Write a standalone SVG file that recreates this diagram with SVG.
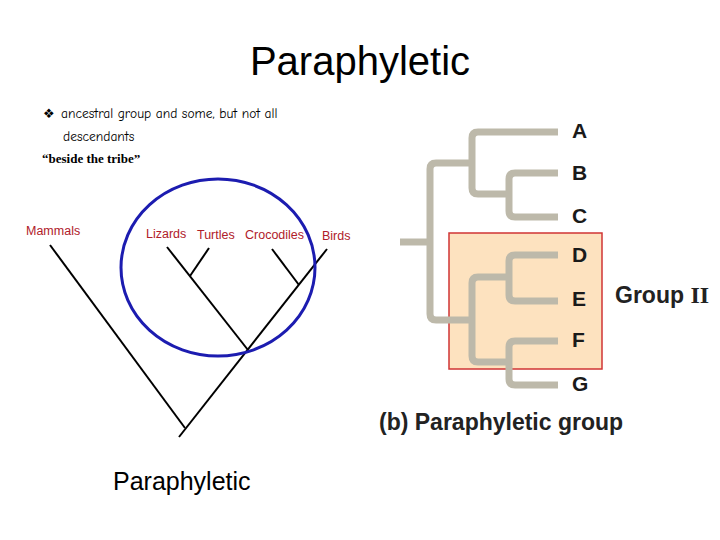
<svg xmlns="http://www.w3.org/2000/svg" width="720" height="540" viewBox="0 0 720 540">
<style>
.title{font-family:"Liberation Sans",sans-serif;font-size:40px;fill:#000}
.body{font-family:"Comic Neue","Liberation Sans",sans-serif;font-size:13.5px;fill:#000}
.quote{font-family:"Liberation Serif",serif;font-size:13px;font-weight:bold;fill:#000}
.tax{font-family:"Liberation Sans",sans-serif;font-size:12.5px;fill:#b0202a}
.blk{stroke:#000;stroke-width:2;fill:none}
.gray{stroke:#bdb9aa;stroke-width:7;fill:none;stroke-linejoin:round;stroke-linecap:butt}
.let{font-family:"Liberation Sans",sans-serif;font-size:21px;font-weight:bold;fill:#1a1a1a}
.cap{font-family:"Liberation Sans",sans-serif;font-size:23px;font-weight:bold;fill:#222}
</style>
<rect width="720" height="540" fill="#fff"/>
<text class="title" x="360" y="75" text-anchor="middle">Paraphyletic</text>
<g id="bullet-text">
<text x="43" y="118" font-family="DejaVu Sans,sans-serif" font-size="13" fill="#000">❖</text>
<text class="body" x="61" y="118">ancestral group and some, but not all</text>
<text class="body" x="63" y="141">descendants</text>
<text class="quote" x="42" y="163">“beside the tribe”</text>
</g>
<g id="left-tree">
<g id="connectors-left">
<line class="blk" x1="50" y1="245" x2="185" y2="428"/>
<line class="blk" x1="327" y1="249" x2="179" y2="437"/>
<line class="blk" x1="167" y1="247" x2="248" y2="350"/>
<line class="blk" x1="209" y1="248" x2="190" y2="276"/>
<line class="blk" x1="272" y1="249" x2="299" y2="285"/>
</g>
<ellipse cx="218" cy="267.5" rx="97" ry="88.5" fill="none" stroke="#1c1cb0" stroke-width="3"/>
<g id="mammals"><text class="tax" x="26" y="235">Mammals</text></g>
<g id="lizards"><text class="tax" x="146" y="238">Lizards</text></g>
<g id="turtles"><text class="tax" x="197" y="239">Turtles</text></g>
<g id="crocodiles"><text class="tax" x="245" y="239">Crocodiles</text></g>
<g id="birds"><text class="tax" x="322" y="240">Birds</text></g>
<text x="113" y="490" font-family="Liberation Sans,sans-serif" font-size="25" fill="#000">Paraphyletic</text>
</g>
<g id="right-tree">
<rect id="group2-box" x="449" y="233" width="153" height="136" fill="#fde2bf" stroke="#d03535" stroke-width="1.5"/>
<g id="connectors-right">
<path class="gray" d="M400 242 H430"/>
<path class="gray" d="M472 163 H436 Q430 163 430 169 V314 Q430 320 436 320 H472"/>
<path class="gray" d="M558 132 H478 Q472 132 472 138 V188 Q472 194 478 194 H509"/>
<path class="gray" d="M558 173 H515 Q509 173 509 179 V211 Q509 217 515 217 H558"/>
<path class="gray" d="M509 277 H478 Q472 277 472 283 V356 Q472 362 478 362 H509"/>
<path class="gray" d="M558 255 H515 Q509 255 509 261 V295 Q509 301 515 301 H558"/>
<path class="gray" d="M558 341 H515 Q509 341 509 347 V379 Q509 385 515 385 H558"/>
</g>
<g id="A"><text class="let" x="572" y="138">A</text></g>
<g id="B"><text class="let" x="572" y="180">B</text></g>
<g id="C"><text class="let" x="572" y="223">C</text></g>
<g id="D"><text class="let" x="572" y="262">D</text></g>
<g id="E"><text class="let" x="572" y="306">E</text></g>
<g id="F"><text class="let" x="572" y="347">F</text></g>
<g id="G"><text class="let" x="572" y="391">G</text></g>
<g id="group2"><text class="cap" x="615" y="303">Group <tspan font-family="Liberation Serif,serif" font-size="24">II</tspan></text></g>
<text class="cap" x="379" y="430">(b) Paraphyletic group</text>
</g>
</svg>
